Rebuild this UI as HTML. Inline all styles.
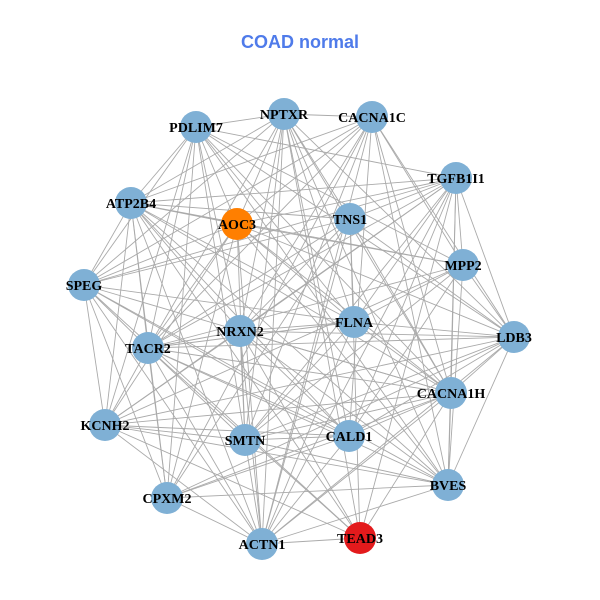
<!DOCTYPE html>
<html><head><meta charset="utf-8"><style>
html,body{margin:0;padding:0;background:#fff;width:600px;height:600px;overflow:hidden}
</style></head><body>
<svg id="g" width="600" height="600" xmlns="http://www.w3.org/2000/svg">
<text x="300" y="48" text-anchor="middle" font-family="Liberation Sans, sans-serif" font-weight="bold" font-size="18" fill="#4f7bea">COAD normal</text>
<g id="edges" stroke="#aaaaaa" stroke-width="0.9"></g>
<g id="nodes"></g>
</svg>
<script>
var N=[["NPTXR",284,114,"#7fb0d5"],["CACNA1C",372,117,"#7fb0d5"],["PDLIM7",196,127,"#7fb0d5"],["TGFB1I1",456,178,"#7fb0d5"],["ATP2B4",131,203,"#7fb0d5"],["AOC3",237,224,"#ff7f00"],["TNS1",350,219,"#7fb0d5"],["MPP2",463,265,"#7fb0d5"],["SPEG",84,285,"#7fb0d5"],["FLNA",354,322,"#7fb0d5"],["NRXN2",240,331,"#7fb0d5"],["TACR2",148,348,"#7fb0d5"],["LDB3",514,337,"#7fb0d5"],["CACNA1H",451,393,"#7fb0d5"],["KCNH2",105,425,"#7fb0d5"],["SMTN",245,440,"#7fb0d5"],["CALD1",349,436,"#7fb0d5"],["BVES",448,485,"#7fb0d5"],["CPXM2",167,498,"#7fb0d5"],["ACTN1",262,544,"#7fb0d5"],["TEAD3",360,538,"#e31a1c"]];
var ns="http://www.w3.org/2000/svg",E=document.getElementById("edges"),G=document.getElementById("nodes");
var s=7;function r(){s=(s*9301+49297)%233280;return s/233280;}
for(var i=0;i<N.length;i++)for(var j=i+1;j<N.length;j++){if(r()<0.22)continue;var l=document.createElementNS(ns,"line");l.setAttribute("x1",N[i][1]);l.setAttribute("y1",N[i][2]);l.setAttribute("x2",N[j][1]);l.setAttribute("y2",N[j][2]);E.appendChild(l);}
N.forEach(function(n){var c=document.createElementNS(ns,"circle");c.setAttribute("cx",n[1]);c.setAttribute("cy",n[2]);c.setAttribute("r",16);c.setAttribute("fill",n[3]);G.appendChild(c);
var t=document.createElementNS(ns,"text");t.setAttribute("x",n[1]);t.setAttribute("y",n[2]+5);t.setAttribute("text-anchor","middle");t.setAttribute("font-family","Liberation Serif, serif");t.setAttribute("font-weight","bold");t.setAttribute("font-size","14");t.textContent=n[0];G.appendChild(t);});
</script>
</body></html>
